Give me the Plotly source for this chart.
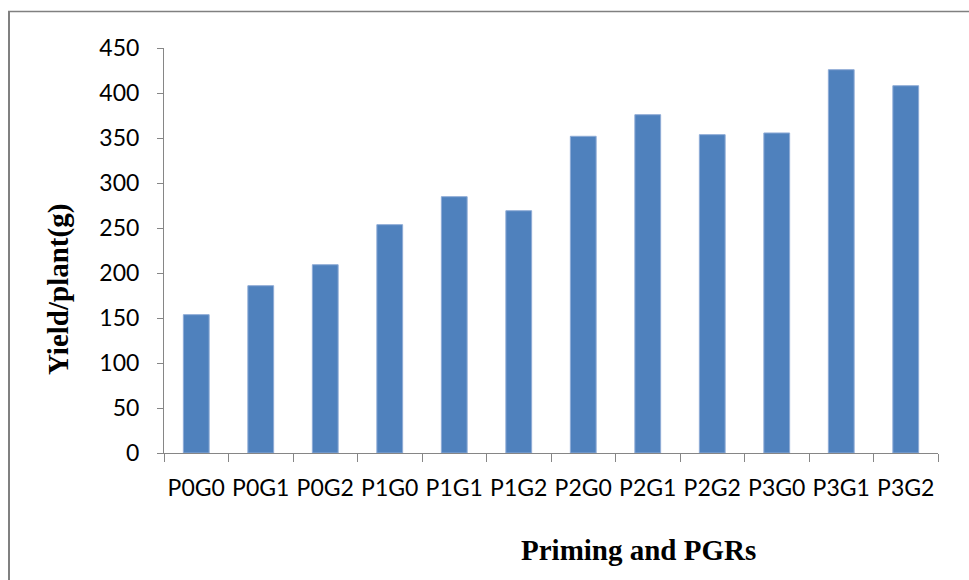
import plotly.graph_objects as go

# Treatment combinations (priming x plant growth regulators)
treatments = ["P0G0", "P0G1", "P0G2", "P1G0", "P1G1", "P1G2",
              "P2G0", "P2G1", "P2G2", "P3G0", "P3G1", "P3G2"]
yield_per_plant = [153.7, 185.9, 209.2, 253.7, 284.8, 269.2,
                   351.9, 375.9, 353.7, 355.6, 425.9, 408.1]
y_ticks = [0, 50, 100, 150, 200, 250, 300, 350, 400, 450]

W, H = 969, 580
L, R, T, B = 164, 31, 48, 127
pw, ph = W - L - R, H - T - B


def px(x):
    return (x - L) / pw


def py(y):
    return (H - B - y) / ph


axis_gray = "#868686"
tick_font = dict(family="Lato, Open Sans, sans-serif", size=23, color="#000000")
title_font = dict(family="Liberation Serif, Times New Roman, serif", size=29, color="#000000")

fig = go.Figure(
    go.Bar(
        x=treatments,
        y=yield_per_plant,
        marker=dict(color="#4F81BD", line=dict(color="#8EABD6", width=1)),
        hoverinfo="x+y",
    )
)

fig.update_layout(
    width=W,
    height=H,
    margin=dict(l=L, r=R, t=T, b=B, pad=0),
    paper_bgcolor="white",
    plot_bgcolor="white",
    bargap=0.6,
    showlegend=False,
    xaxis=dict(
        type="category",
        showgrid=False,
        showline=True,
        linecolor=axis_gray,
        linewidth=1,
        ticks="outside",
        tickson="boundaries",
        ticklen=8,
        tickcolor=axis_gray,
        tickfont=tick_font,
        tickangle=0,
        ticklabelstandoff=14,
        zeroline=False,
    ),
    yaxis=dict(
        range=[0, 450],
        tickvals=y_ticks,
        showgrid=False,
        showline=True,
        linecolor=axis_gray,
        linewidth=1,
        ticks="outside",
        ticklen=6,
        tickcolor=axis_gray,
        tickfont=tick_font,
        ticklabelstandoff=13,
        zeroline=False,
    ),
    annotations=[
        dict(text="<b>Priming and PGRs</b>", xref="paper", yref="paper",
             x=px(638), y=py(550), xanchor="center", yanchor="middle",
             showarrow=False, font=title_font),
        dict(text="<b>Yield/plant(g)</b>", xref="paper", yref="paper",
             x=px(58), y=py(290), xanchor="center", yanchor="middle",
             textangle=-90, showarrow=False, font=title_font),
    ],
    shapes=[
        # chart frame (left and top edges)
        dict(type="line", xref="paper", yref="paper",
             x0=px(9), x1=px(9), y0=py(11), y1=py(600),
             line=dict(color="#808080", width=2)),
        dict(type="line", xref="paper", yref="paper",
             x0=px(8), x1=px(1000), y0=py(11.5), y1=py(11.5),
             line=dict(color="#808080", width=1.5)),
    ],
)

fig.write_html("out.html")
